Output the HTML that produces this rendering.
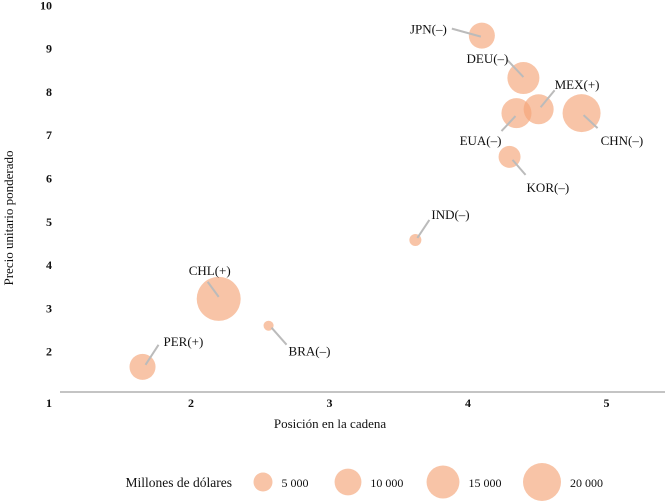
<!DOCTYPE html>
<html><head><meta charset="utf-8"><style>
html,body{margin:0;padding:0;background:#fff;width:665px;height:502px;overflow:hidden}
svg text{font-family:"Liberation Serif",serif;fill:#111}
</style></head><body>
<svg id="chart" width="665" height="502">
<g id="axes"></g><g id="marks"></g><g id="legend"></g>
</svg>
<script>
const countries=["JPN(–)","DEU(–)","MEX(+)","EUA(–)","CHN(–)","KOR(–)","IND(–)","CHL(+)","BRA(–)","PER(+)"];
const xValues=[4.10,4.40,4.51,4.35,4.82,4.30,3.62,2.20,2.56,1.65];
const yValues=[9.30,8.32,7.60,7.51,7.51,6.50,4.58,3.22,2.60,1.65];
const sizeValues=[9400,14200,12500,12500,20000,6700,2000,26800,1400,9400];
const xTicks=[2,3,4,5];
const yTicks=[1,2,3,4,5,6,7,8,9,10];
const legendValues=[5000,10000,15000,20000];
const legendLabels=["5 000","10 000","15 000","20 000"];
// label layout: [labelAnchorX offset, labelY offset, text-anchor, leader start dx, dy, leader end dx, dy]
const labelOffsets=[[-35,-6,"end",-30,-7,-1,1],[-15,-19,"end",-16,-18,0,-1],[16,-24,"start",16,-19,2,-2],[-15,28,"end",-15,18,-1,3],[19,28,"start",16,15,2,2],[17,31,"start",16,18,3,3],[16,-25,"start",14,-20,2,-2],[-9,-28,"middle",-11,-17,0,-2],[20,26,"start",18,19,3,2],[21,-25,"start",16,-22,3,-2]];
const NS="http://www.w3.org/2000/svg";
const X=v=>52.5+(v-1)*138.5, Y=v=>395-(v-1)*43.3, R=v=>19*Math.sqrt(v/20000);
function mk(p,t,a){const e=document.createElementNS(NS,t);for(const k in a)e.setAttribute(k,a[k]);p.appendChild(e);return e;}
const axes=document.getElementById('axes'),marks=document.getElementById('marks'),legend=document.getElementById('legend');
const xl=mk(axes,'line',{x1:60,x2:665,y1:392,y2:392,stroke:'#888','stroke-width':1});


xTicks.forEach(t=>{const e=mk(axes,'text',{x:X(t),y:407,'text-anchor':'middle','font-size':12,'font-weight':'bold'});e.textContent=t;

});
yTicks.forEach(t=>{const y=t===1?407:Y(t)+4;const e=mk(axes,'text',{x:52,y:y,'text-anchor':'end','font-size':12,'font-weight':'bold'});e.textContent=t;

});
let e=mk(axes,'text',{x:330,y:428,'text-anchor':'middle','font-size':13});e.textContent='Posición en la cadena';


e=mk(axes,'text',{x:13,y:218,'text-anchor':'middle','font-size':13,transform:'rotate(-90 13 218)'});e.textContent='Precio unitario ponderado';


countries.forEach((c,i)=>{const cx=X(xValues[i]),cy=Y(yValues[i]);
const b=mk(marks,'circle',{cx:cx,cy:cy,r:R(sizeValues[i]),fill:'#f4a578','fill-opacity':0.65});

});
countries.forEach((c,i)=>{const cx=X(xValues[i]),cy=Y(yValues[i]);const o=labelOffsets[i];
const l=mk(marks,'line',{x1:cx+o[3],y1:cy+o[4],x2:cx+o[5],y2:cy+o[6],stroke:'#bbb','stroke-width':2});


const t=mk(marks,'text',{x:cx+o[0],y:cy+o[1]+4,'text-anchor':o[2],'font-size':13});t.textContent=c;

});
e=mk(legend,'text',{x:232,y:487,'text-anchor':'end','font-size':13.5});e.textContent='Millones de dólares';


const lx=[263,348,443,542];
legendValues.forEach((v,i)=>{const c=mk(legend,'circle',{cx:lx[i],cy:482,r:R(v),fill:'#f4a578','fill-opacity':0.65});


const t=mk(legend,'text',{x:lx[i]+R(v)+9,y:487,'font-size':12});t.textContent=legendLabels[i];

});
</script>
</body></html>
